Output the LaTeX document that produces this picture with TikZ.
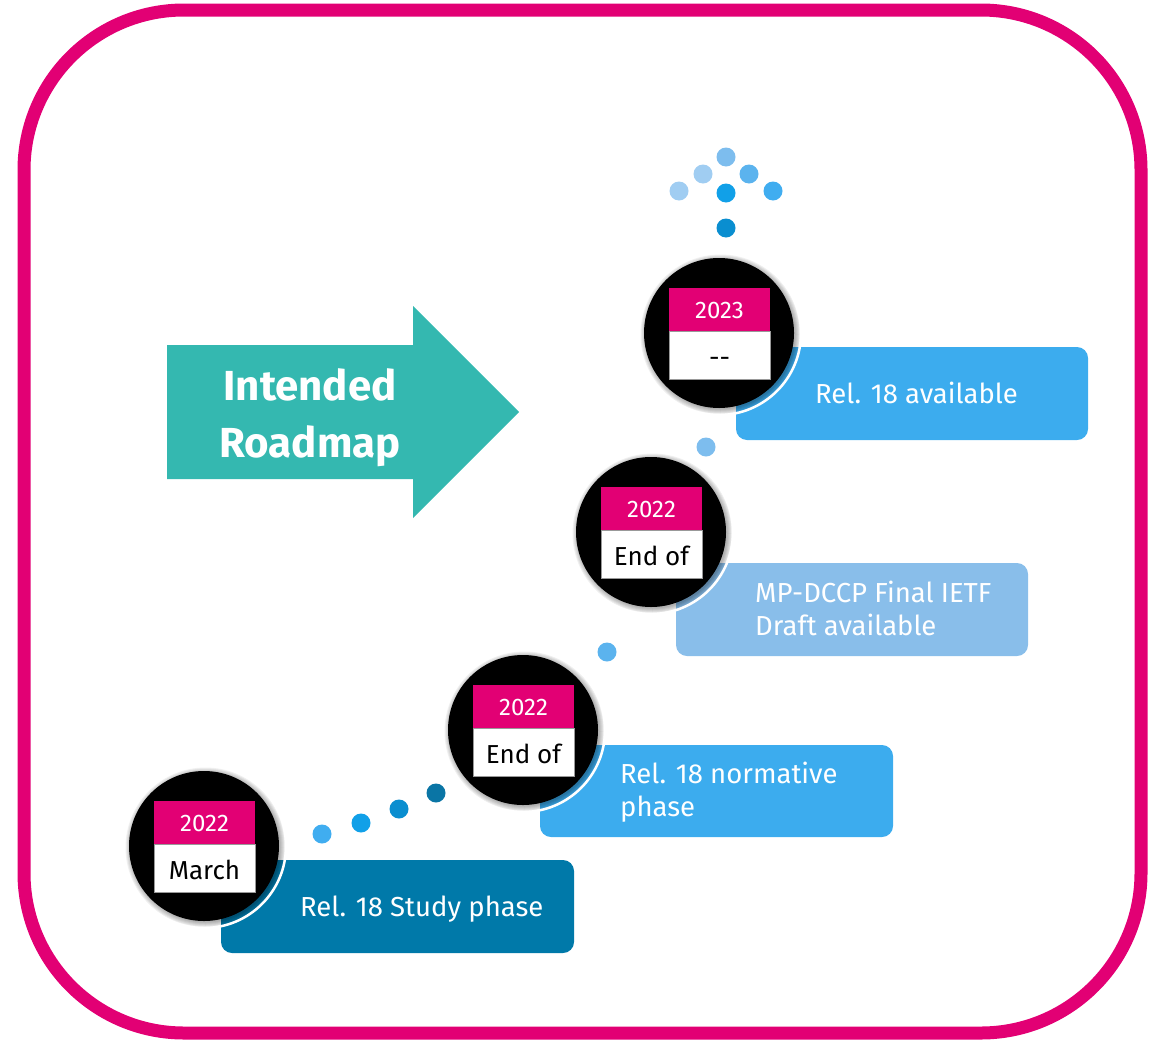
\documentclass[tikz,border=0pt]{standalone}
\usepackage{fontspec}
\setmainfont{Fira Sans}
\definecolor{tmagenta}{HTML}{E20074}
\definecolor{arrowteal}{HTML}{34B8B0}
\definecolor{stepdark}{HTML}{0079A9}
\definecolor{steplight}{HTML}{3CACEE}
\definecolor{steppale}{HTML}{89BEEA}
\definecolor{dotA}{HTML}{40ADF0}
\definecolor{dotB}{HTML}{11A0E8}
\definecolor{dotC}{HTML}{0A8ED0}
\definecolor{dotD}{HTML}{0A75A5}
\definecolor{dotE}{HTML}{5BB3EE}
\definecolor{dotF}{HTML}{7DBDEE}
\definecolor{dotG}{HTML}{A0CDF2}
\tikzset{
  phasebox/.style={rounded corners=11pt},
  phasetext/.style={anchor=base west, inner sep=0pt, text=white,
    font=\fontsize{27.5}{33}\selectfont, align=left},
  yeartext/.style={anchor=base, inner sep=0pt, text=white, font=\fontsize{24}{24}\selectfont},
  whentext/.style={anchor=base, inner sep=0pt, text=black, font=\fontsize{26}{26}\selectfont},
  arrowtext/.style={anchor=base, inner sep=0pt, text=white, font=\bfseries\fontsize{42}{42}\selectfont},
  trackdot/.style={circle, inner sep=0pt, minimum size=19pt},
}
% one milestone disc: #1 name, #2 centre, #3 year, #4 period
\newcommand\milestone[4]{%
  \foreach \k in {1,...,6}
    \fill[black, opacity=0.06] ($(#2)+(1.5,1.5)$) circle[radius=74pt+\k pt];
  \draw[white, line width=2.5pt] (#2) circle[radius=82pt];
  \node[circle, fill=black, minimum size=150pt, inner sep=0pt] (#1) at (#2) {};
  \fill[tmagenta] ($(#1)+(-50,-45)$) rectangle ($(#1)+(51,-2)$);
  \filldraw[fill=white, draw=black!40, line width=0.6pt] ($(#1)+(-50,-2)$) rectangle ($(#1)+(51,46)$);
  \node[yeartext] (#1-year) at ($(#1)+(0.5,-15)$) {#3};
  \node[whentext] (#1-when) at ($(#1)+(0.5,33)$) {#4};
}
\usetikzlibrary{calc}
\begin{document}
\begin{tikzpicture}[x=1pt, y=-1pt]
\useasboundingbox (0,0) rectangle (1166,1044);

% frame
\draw[tmagenta, line width=13pt, rounded corners=160pt] (24,10) rectangle (1141,1033);

% big arrow
\fill[arrowteal] (167,345) -- (413,345) -- (413,306) -- (519,412) -- (413,518)
  -- (413,479) -- (167,479) -- cycle;
\node[arrowtext] (intended) at (310,400) {Intended};
\node[arrowtext] (roadmap) at (310,457) {Roadmap};

% phase boxes
\fill[stepdark, phasebox] (221,860) rectangle (574,953);
\fill[steplight, phasebox] (540,745) rectangle (893,837);
\fill[steppale, phasebox] (676,563) rectangle (1028,656);
\fill[steplight, phasebox] (736,347) rectangle (1088,440);

% multi-line labels are anchored on the baseline of their last line
\node[phasetext] (study) at (300,916) {Rel. 18 Study phase};
\node[phasetext] (normative) at (620,816) {Rel. 18 normative\\phase};
\node[phasetext] (draft) at (755,635) {MP-DCCP Final IETF\\Draft available};
\node[phasetext] (available) at (815,403) {Rel. 18 available};

% milestones
\coordinate (c1) at (204,846);
\coordinate (c2) at (523,730);
\coordinate (c3) at (651,532);
\coordinate (c4) at (719,333);
\milestone{m1}{c1}{2022}{March}
\milestone{m2}{c2}{2022}{End of}
\milestone{m3}{c3}{2022}{End of}
\milestone{m4}{c4}{2023}{-{}-}

% dotted track
\node[trackdot, fill=dotA] (d1) at (322,834) {};
\node[trackdot, fill=dotB] (d2) at (361,823) {};
\node[trackdot, fill=dotC] (d3) at (399,809) {};
\node[trackdot, fill=dotD] (d4) at (436,793) {};
\node[trackdot, fill=dotE] (d5) at (607,652) {};
\node[trackdot, fill=dotF] (d6) at (706,447) {};
\node[trackdot, fill=dotC] (d7) at (726,228) {};
% arrow head of dots
\node[trackdot, fill=dotB] (h0) at (726,193) {};
\node[trackdot, fill=dotG] (h1) at (679,191) {};
\node[trackdot, fill=dotG] (h2) at (703,174) {};
\node[trackdot, fill=dotF] (h3) at (726,157) {};
\node[trackdot, fill=dotE] (h4) at (749,174) {};
\node[trackdot, fill=dotA] (h5) at (773,191) {};
\end{tikzpicture}
\end{document}
